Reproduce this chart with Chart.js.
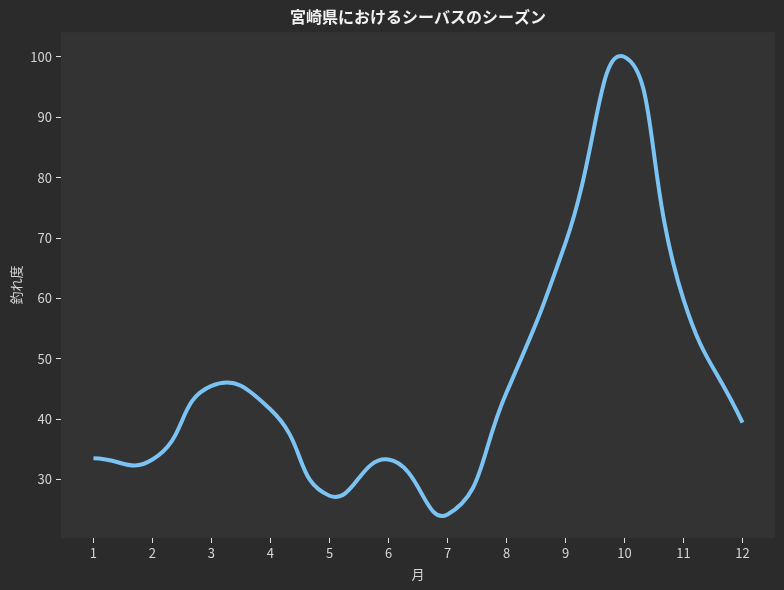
<!DOCTYPE html>
<html>
<head>
<meta charset="utf-8">
<script src="https://cdn.jsdelivr.net/npm/chart.js@4/dist/chart.umd.min.js"></script>
<style>
  html, body { margin: 0; padding: 0; background: #2b2b2b; }
  #wrap { width: 784px; height: 590px; }
</style>
</head>
<body>
<div id="wrap"><canvas id="seasonChart"></canvas></div>
<script>
// 月ごとの釣れ度
const months = [1, 2, 3, 4, 5, 6, 7, 8, 9, 10, 11, 12];
const catchRate = [33.5, 33.3, 45.5, 41.6, 27.3, 33.3, 24.2, 44.4, 69.2, 100, 59.8, 39.4];
const yTicks = [30, 40, 50, 60, 70, 80, 90, 100];

const FONT = "'Noto Sans CJK JP', 'Noto Sans', sans-serif";
const TEXT = "#d4d4d4";

// plot area fill
const plotBg = {
    id: "plotBg",
    beforeDraw(chart) {
        const { ctx, chartArea: a } = chart;
        ctx.save();
        ctx.fillStyle = "#333333";
        ctx.fillRect(a.left, a.top, a.right - a.left, a.bottom - a.top);
        ctx.restore();
    }
};

new Chart(document.getElementById("seasonChart"), {
    type: "line",
    data: {
        datasets: [{
            data: months.map((m, i) => ({ x: m, y: catchRate[i] })),
            borderColor: "#7ac3f3",
            borderWidth: 4,
            pointRadius: 0,
            tension: 0.5,
            fill: false
        }]
    },
    options: {
        responsive: true,
        maintainAspectRatio: false,
        animation: false,
        layout: { padding: { left: 0, right: 9, top: 0, bottom: 0 } },
        plugins: {
            legend: { display: false },
            tooltip: { enabled: false },
            title: {
                display: true,
                fullSize: false,
                text: "宮崎県におけるシーバスのシーズン",
                color: "#f2f2f2",
                font: { family: FONT, size: 16, weight: "bold" },
                padding: { top: 7, bottom: 6 }
            }
        },
        scales: {
            x: {
                type: "linear",
                min: 0.45,
                max: 12.55,
                afterBuildTicks: axis => { axis.ticks = months.map(v => ({ value: v })); },
                afterFit: axis => { axis.height = 52; },
                grid: { drawOnChartArea: false, drawTicks: true, tickLength: 5, tickColor: "#e0e0e0" },
                border: { display: false },
                ticks: { color: TEXT, font: { family: FONT, size: 13 }, padding: 2, maxRotation: 0 },
                title: { display: true, text: "月", color: TEXT, font: { family: FONT, size: 13 }, padding: { top: 0, bottom: 8 } }
            },
            y: {
                min: 20.3,
                max: 104.1,
                afterBuildTicks: axis => { axis.ticks = yTicks.map(v => ({ value: v })); },
                afterFit: axis => { axis.width = 61; },
                grid: { drawOnChartArea: false, drawTicks: true, tickLength: 5, tickColor: "#e0e0e0" },
                border: { display: false },
                ticks: { color: TEXT, font: { family: FONT, size: 13 }, padding: 4 },
                title: { display: true, text: "釣れ度", color: TEXT, font: { family: FONT, size: 13 }, padding: { top: 8, bottom: 2 } }
            }
        }
    },
    plugins: [plotBg]
});
</script>
</body>
</html>
